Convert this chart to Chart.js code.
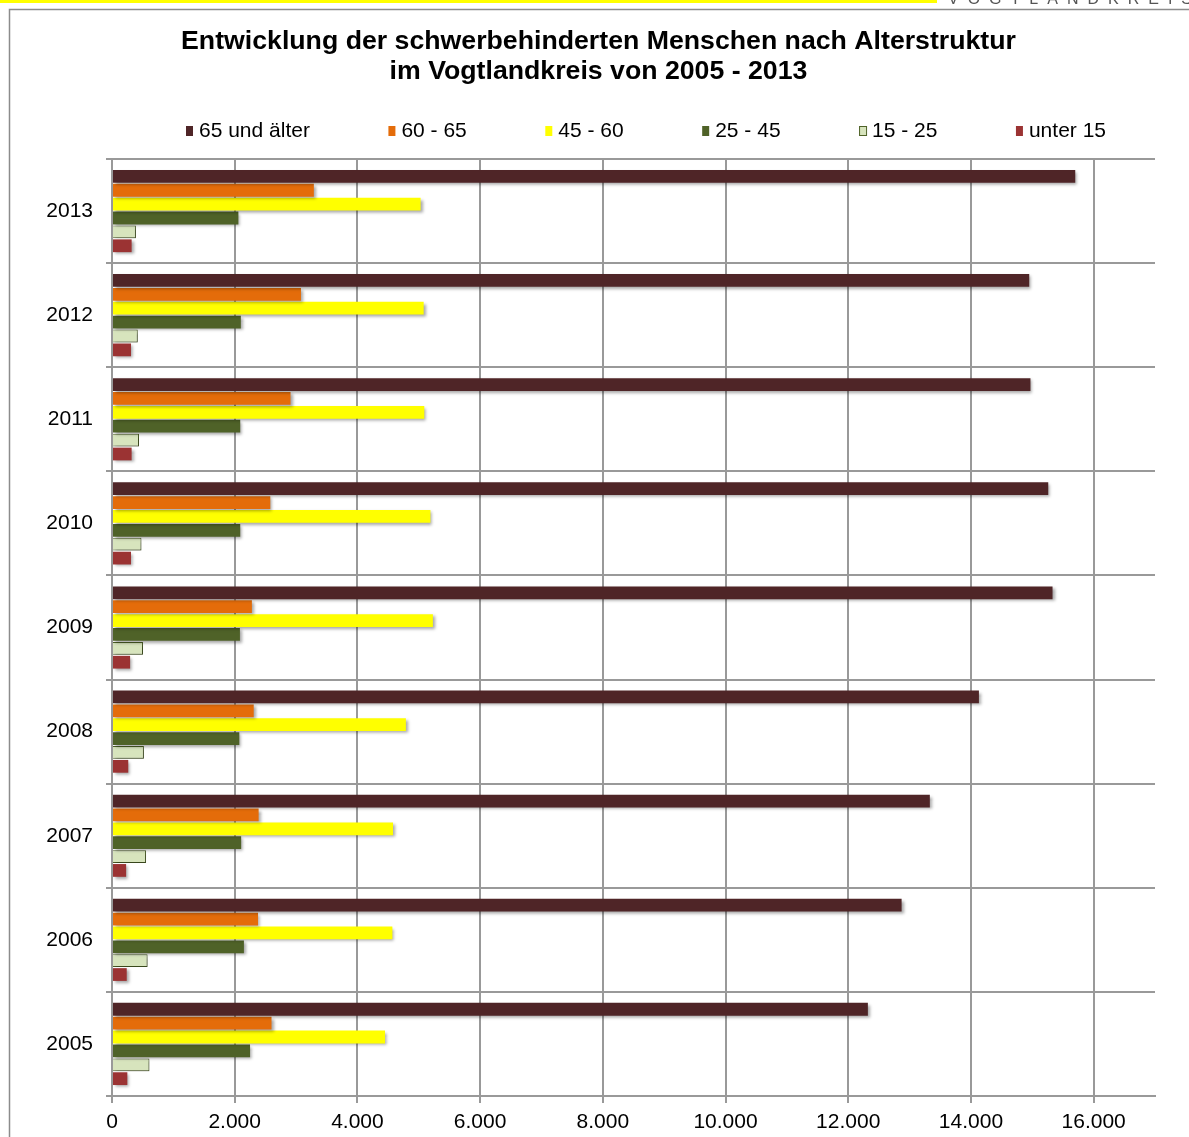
<!DOCTYPE html>
<html lang="de">
<head>
<meta charset="utf-8">
<title>Schwerbehinderte Menschen nach Altersstruktur</title>
<script src="https://cdn.jsdelivr.net/npm/chart.js@4/dist/chart.umd.min.js"></script>
<style>
  html, body { margin: 0; padding: 0; background: #fff; }
  #wrap { position: relative; width: 1189px; height: 1137px; overflow: hidden; }
</style>
</head>
<body>
<div id="wrap"><canvas id="chart" width="1189" height="1137"></canvas></div>
<script>
const years = ["2013", "2012", "2011", "2010", "2009", "2008", "2007", "2006", "2005"];
const ab65 = [15700, 14950, 14970, 15260, 15330, 14130, 13330, 12870, 12320];
const von60bis65 = [3290, 3080, 2910, 2580, 2280, 2310, 2390, 2380, 2600];
const von45bis60 = [5030, 5080, 5090, 5190, 5230, 4790, 4580, 4570, 4450];
const von25bis45 = [2060, 2100, 2090, 2090, 2085, 2075, 2105, 2150, 2250];
const von15bis25 = [390, 420, 440, 480, 505, 520, 555, 580, 610];
const unter15 = [320, 310, 320, 310, 295, 265, 230, 240, 250];
const xTicks = [0, 2000, 4000, 6000, 8000, 10000, 12000, 14000, 16000];

const FONT = "'Liberation Sans', Arial, sans-serif";
const gridColor = "#999999";

// Zahlen mit Tausenderpunkt
const fmt = (v) => String(v).replace(/\B(?=(\d{3})+(?!\d))/g, ".");

// Rahmen, gelber Streifen und Kopfzeile
const framePlugin = {
  id: "frame",
  beforeDraw(chart) {
    const ctx = chart.ctx;
    ctx.save();
    ctx.fillStyle = "#ffff00";
    ctx.fillRect(0, 0, 937, 3);
    ctx.strokeStyle = "#8c8c8c";
    ctx.lineWidth = 1.5;
    ctx.beginPath();
    ctx.moveTo(9.5, chart.height);
    ctx.lineTo(9.5, 9.5);
    ctx.lineTo(chart.width, 9.5);
    ctx.stroke();
    ctx.fillStyle = "#555";
    ctx.font = "16px " + FONT;
    ctx.textBaseline = "alphabetic";
    ctx.letterSpacing = "9px";
    ctx.fillText("VOGTLANDKREIS", 948, 4);
    ctx.restore();
  },
};

// leichter Schatten unter den Balken
const shadowPlugin = {
  id: "barShadow",
  beforeDatasetsDraw(chart) {
    const ctx = chart.ctx;
    ctx.save();
    ctx.shadowColor = "rgba(0,0,0,0.35)";
    ctx.shadowBlur = 3;
    ctx.shadowOffsetX = 2;
    ctx.shadowOffsetY = 2;
  },
  afterDatasetsDraw(chart) {
    chart.ctx.restore();
  },
};

// Legende in einer Zeile, wie im Original weit auseinandergezogen
const legendPlugin = {
  id: "wideLegend",
  afterDraw(chart) {
    const ctx = chart.ctx;
    const sets = chart.data.datasets;
    const left = 186, right = 1106, y = 130, box = 7, gap = 6;
    ctx.save();
    ctx.font = "21px " + FONT;
    ctx.textBaseline = "middle";
    const widths = sets.map((d) => box + gap + ctx.measureText(d.label).width);
    const total = widths.reduce((a, b) => a + b, 0);
    const space = (right - left - total) / (sets.length - 1);
    let x = left;
    sets.forEach((d, i) => {
      ctx.fillStyle = d.backgroundColor;
      ctx.fillRect(x, y - 4, box, 10);
      if (d.borderWidth) {
        ctx.strokeStyle = d.borderColor;
        ctx.lineWidth = 1;
        ctx.strokeRect(x + 0.5, y - 3.5, box, 9);
      }
      ctx.fillStyle = "#000";
      ctx.fillText(d.label, x + box + gap, y + 1);
      x += widths[i] + space;
    });
    ctx.restore();
  },
};

const ctx = document.getElementById("chart").getContext("2d");

new Chart(ctx, {
  type: "bar",
  data: {
    labels: years,
    datasets: [
      { label: "65 und älter", data: ab65, backgroundColor: "#4f2527" },
      { label: "60 - 65", data: von60bis65, backgroundColor: "#e46c0a" },
      { label: "45 - 60", data: von45bis60, backgroundColor: "#ffff00" },
      { label: "25 - 45", data: von25bis45, backgroundColor: "#4f6228" },
      {
        label: "15 - 25",
        data: von15bis25,
        backgroundColor: "#d7e4bd",
        borderColor: "#4f6228",
        borderWidth: 1,
      },
      { label: "unter 15", data: unter15, backgroundColor: "#9b3333" },
    ],
  },
  options: {
    indexAxis: "y",
    responsive: false,
    animation: false,
    datasets: {
      bar: { categoryPercentage: 0.8, barPercentage: 0.92 },
    },
    layout: { padding: { left: 42, right: 34, top: 0, bottom: 0 } },
    scales: {
      x: {
        type: "linear",
        min: 0,
        max: 17000,
        afterBuildTicks: (axis) => {
          axis.ticks = xTicks.map((v) => ({ value: v }));
        },
        afterFit: (scale) => {
          scale.height = 41;
        },
        grid: { color: gridColor, lineWidth: 2, tickLength: 7 },
        border: { display: true, color: gridColor, width: 2 },
        ticks: {
          padding: 7,
          color: "#000",
          font: { family: FONT, size: 21 },
          callback: (v) => fmt(v),
        },
      },
      y: {
        afterFit: (scale) => {
          scale.width = 70;
        },
        grid: { offset: true, color: gridColor, lineWidth: 2, tickLength: 6 },
        border: { display: true, color: gridColor, width: 2 },
        ticks: {
          padding: 13,
          color: "#000",
          font: { family: FONT, size: 21 },
        },
      },
    },
    plugins: {
      title: {
        display: true,
        text: [
          "Entwicklung der schwerbehinderten Menschen nach Alterstruktur",
          "im Vogtlandkreis von 2005 - 2013",
        ],
        color: "#000",
        font: { family: FONT, size: 26.7, weight: "bold", lineHeight: 1.12 },
        padding: { top: 27, bottom: 72.2 },
      },
      legend: { display: false },
      tooltip: { enabled: false },
    },
  },
  plugins: [framePlugin, shadowPlugin, legendPlugin],
});
</script>
</body>
</html>
